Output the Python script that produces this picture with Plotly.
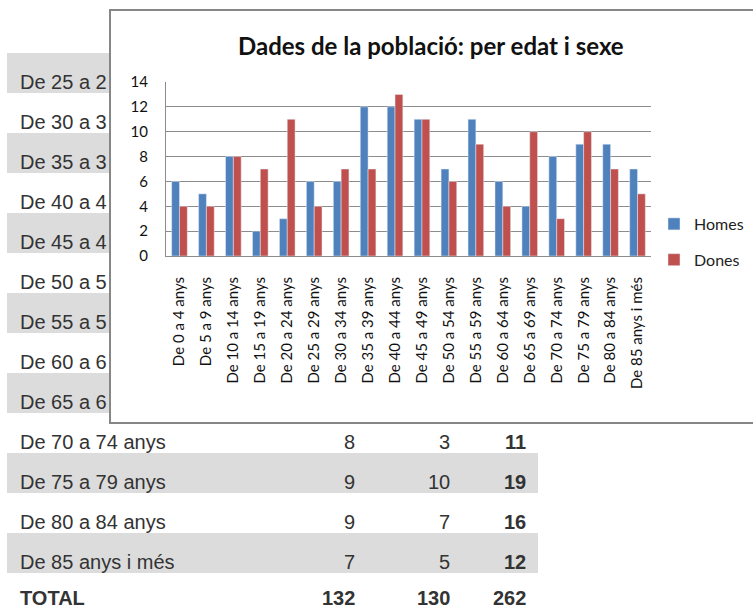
import plotly.graph_objects as go

# ---------------- data ----------------
categories = ["De 0 a 4 anys", "De 5 a 9 anys", "De 10 a 14 anys", "De 15 a 19 anys",
              "De 20 a 24 anys", "De 25 a 29 anys", "De 30 a 34 anys", "De 35 a 39 anys",
              "De 40 a 44 anys", "De 45 a 49 anys", "De 50 a 54 anys", "De 55 a 59 anys",
              "De 60 a 64 anys", "De 65 a 69 anys", "De 70 a 74 anys", "De 75 a 79 anys",
              "De 80 a 84 anys", "De 85 anys i més"]
homes = [6, 5, 8, 2, 3, 6, 6, 12, 12, 11, 7, 11, 6, 4, 8, 9, 9, 7]
dones = [4, 4, 8, 7, 11, 4, 7, 7, 13, 11, 6, 9, 4, 10, 3, 10, 7, 5]
y_ticks = [0, 2, 4, 6, 8, 10, 12, 14]
title_text = "Dades de la població: per edat i sexe"
total_label = "TOTAL"

W, H = 753, 611
BLUE = "#4f81bd"
RED = "#c0504d"
TXT = "#333333"
BAND = "#dcdcdc"

def px(x):
    return x / W

def py(y):
    return 1 - y / H

fig = go.Figure()
fig.add_trace(go.Bar(x=categories, y=homes, name="Homes", marker_color=BLUE,
                     legendgroup="h"))
fig.add_trace(go.Bar(x=categories, y=dones, name="Dones", marker_color=RED,
                     legendgroup="d"))

shapes = []
annotations = []

# ---------------- background table ----------------
first_row = 5  # table rows visible start at "De 25 a 29 anys"
n_rows = len(categories) - first_row + 1  # + TOTAL
row_top0, row_h = 53, 40
for r in range(n_rows):
    top = row_top0 + r * row_h
    if r % 2 == 0:
        shapes.append(dict(type="rect", xref="paper", yref="paper", layer="below",
                           x0=px(7), x1=px(538), y0=py(top + row_h), y1=py(top),
                           fillcolor=BAND, line=dict(width=0)))

# chart box (covers the middle of the table)
shapes.append(dict(type="rect", xref="paper", yref="paper", layer="below",
                   x0=px(110), x1=px(754), y0=py(423), y1=py(10),
                   fillcolor="white", line=dict(color="#868686", width=2)))

box_bottom = 423
for r in range(n_rows):
    yc = row_top0 + r * row_h + 29
    idx = first_row + r
    if idx < len(categories):
        label = categories[idx]
        h_val, d_val = homes[idx], dones[idx]
        bold = False
    else:
        label = total_label
        h_val, d_val = sum(homes), sum(dones)
        bold = True
    covered = yc < box_bottom
    text = label[:9] if covered else label
    last = r == n_rows - 1
    ypos = py(H) if last else py(yc)
    yanc = "bottom" if last else "middle"
    fnt = dict(family="Liberation Sans, Arial", size=20, color=TXT)
    annotations.append(dict(xref="paper", yref="paper", x=px(18), y=ypos,
                            xanchor="left", yanchor=yanc, showarrow=False,
                            text=f"<b>{text}</b>" if bold else text, font=fnt))
    if not covered:
        for xr, val, b in [(357, h_val, bold), (452, d_val, bold), (528, h_val + d_val, True)]:
            annotations.append(dict(xref="paper", yref="paper", x=px(xr), y=ypos,
                                    xanchor="right", yanchor=yanc, showarrow=False,
                                    text=f"<b>{val}</b>" if b else str(val), font=fnt))

# chart title
annotations.append(dict(xref="paper", yref="paper", x=px(431), y=py(45),
                        xanchor="center", yanchor="middle", showarrow=False,
                        text=f"<b>{title_text}</b>",
                        font=dict(family="Lato, Open Sans", size=24, color="#111111")))

fig.update_layout(
    width=W, height=H,
    margin=dict(l=0, r=0, t=0, b=0, autoexpand=False),
    paper_bgcolor="white",
    plot_bgcolor="rgba(0,0,0,0)",
    barmode="group",
    bargap=0.42,
    bargroupgap=0,
    shapes=shapes,
    annotations=annotations,
    showlegend=True,
    legend=dict(x=px(654), y=py(207), xanchor="left", yanchor="top",
                font=dict(family="Lato, Open Sans", size=16, color="#222222"),
                tracegroupgap=12, bgcolor="rgba(0,0,0,0)"),
    xaxis=dict(domain=[px(166), px(651)], tickangle=-90, showgrid=False,
               showline=True, linecolor="#8c8c8c", linewidth=1,
               ticks="", ticklabelstandoff=14, automargin=False,
               tickfont=dict(family="Lato, Open Sans", size=15, color="#111111"),
               fixedrange=True),
    yaxis=dict(domain=[py(256), py(82)], range=[0, 14], tickvals=y_ticks,
               showgrid=True, gridcolor="#8c8c8c", gridwidth=1,
               showline=True, linecolor="#8c8c8c", linewidth=1,
               zeroline=False, ticks="", ticklabelstandoff=14, automargin=False,
               tickfont=dict(family="Lato, Open Sans", size=15, color="#111111"),
               fixedrange=True),
)

fig.write_html("out.html", config={"displayModeBar": False},
               post_script="document.body.style.margin='0';")
